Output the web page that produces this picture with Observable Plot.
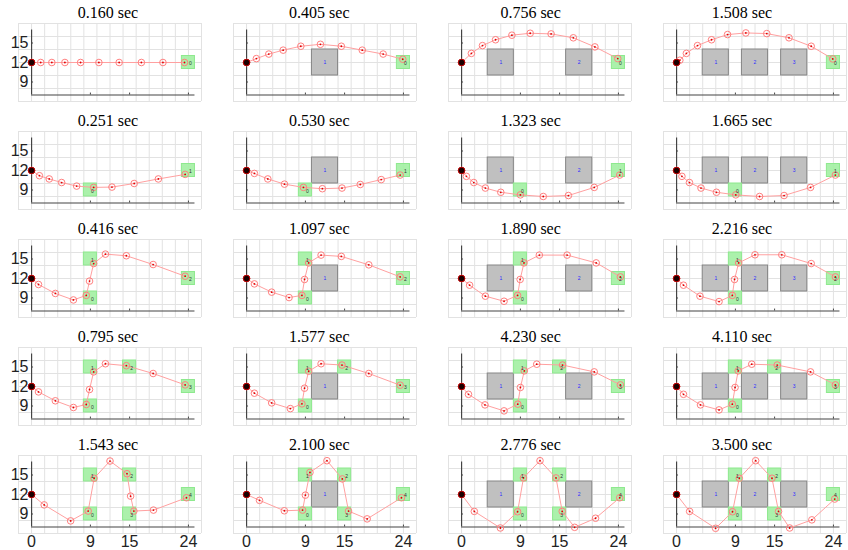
<!DOCTYPE html>
<html>
<head>
<meta charset="utf-8">
<script src="https://cdn.jsdelivr.net/npm/d3@7"></script>
<script src="https://cdn.jsdelivr.net/npm/@observablehq/plot@0.6"></script>
<style>
  body { margin: 0; background: #fff; }
  #chart svg { display: block; }
</style>
</head>
<body>
<div id="chart"></div>
<script>
// ---- data -------------------------------------------------------------
const titles = [
  "0.160 sec", "0.405 sec", "0.756 sec", "1.508 sec",
  "0.251 sec", "0.530 sec", "1.323 sec", "1.665 sec",
  "0.416 sec", "1.097 sec", "1.890 sec", "2.216 sec",
  "0.795 sec", "1.577 sec", "4.230 sec", "4.110 sec",
  "1.543 sec", "2.100 sec", "2.776 sec", "3.500 sec"
];
const xTicks = [0, 9, 15, 24];
const yTicks = [9, 12, 15];

// obstacle centres per column (square obstacles, all centred at y = 12)
const obstacleX = [[], [12], [6, 18], [6, 12, 18]];
const obstacleY = 12;

// waypoints per row
const waypointX = [[24], [9, 24], [9, 9, 24], [9, 9, 15, 24], [9, 9, 15, 15, 24]];
const waypointY = [[12], [9, 12], [9, 15, 12], [9, 15, 15, 12], [9, 15, 15, 9, 12]];

// trajectories, row-major panel order
const trajX = [
  [0, 1.4, 3.1, 5.1, 7.5, 10.3, 13.4, 16.8, 20.1, 23.4],
  [0, 1.5, 3.4, 5.6, 8.3, 11.3, 14.5, 17.7, 20.9, 23.9],
  [0, 1.5, 3.2, 5.2, 7.7, 10.5, 13.7, 17.1, 20.4, 23.9],
  [0, 0.5, 1.5, 3.2, 5.35, 7.8, 10.6, 13.8, 17.2, 20.6, 23.9],

  [0, 1.2, 2.7, 4.6, 6.9, 9.5, 12.3, 15.7, 19.4, 23.5],
  [0, 1.2, 3.25, 5.8, 8.7, 11.6, 14.6, 17.4, 20.6, 23.5],
  [0, 0.74, 1.87, 3.64, 6.0, 9.0, 12.5, 16.35, 20.3, 24.2],
  [0, 0.82, 1.97, 3.74, 6.1, 9.06, 12.7, 16.45, 20.5, 24.3],

  [0, 1.06, 3.64, 6.4, 8.37, 8.87, 9.5, 11.3, 14.5, 18.6, 23.5],
  [0, 1.2, 3.84, 6.5, 8.47, 8.87, 9.5, 11.4, 14.5, 18.7, 23.5],
  [0, 1.23, 3.64, 6.5, 8.57, 8.96, 9.55, 11.9, 16.15, 20.6, 24.3],
  [0, 1.06, 3.58, 6.5, 8.53, 8.87, 9.5, 12.0, 16.1, 20.6, 24.3],

  [0, 1.06, 3.64, 6.4, 8.37, 8.87, 9.5, 11.3, 14.5, 18.6, 23.5],
  [0, 1.2, 3.84, 6.7, 8.47, 8.87, 9.5, 11.4, 14.6, 18.7, 23.5],
  [0, 1.06, 3.58, 6.5, 8.6, 9.0, 9.6, 11.5, 15.45, 20.3, 24.3],
  [0, 1.06, 3.66, 6.5, 8.53, 8.95, 9.43, 11.5, 15.4, 20.5, 24.3],

  [0, 1.93, 5.98, 8.66, 9.57, 12.0, 14.6, 15.15, 15.65, 18.65, 23.7],
  [0, 1.98, 5.78, 8.57, 9.0, 9.7, 12.3, 14.65, 15.6, 18.45, 23.7],
  [0, 1.95, 5.94, 8.57, 9.47, 12.0, 14.45, 15.4, 17.3, 20.5, 24.2],
  [0, 2.0, 5.97, 8.56, 9.6, 12.1, 14.6, 15.6, 17.3, 20.7, 24.2]
];
const trajY = [
  [12, 12, 12, 12, 12, 12, 12, 12, 12, 12],
  [12, 12.6, 13.3, 13.9, 14.5, 14.8, 14.5, 13.9, 13.3, 12.5],
  [12, 13.4, 14.6, 15.5, 16.2, 16.5, 16.4, 15.8, 14.4, 12.6],
  [12, 12.35, 13.4, 14.6, 15.5, 16.3, 16.55, 16.45, 15.8, 14.5, 12.55],

  [12, 11.2, 10.7, 10.15, 9.6, 9.4, 9.45, 10.0, 10.7, 11.4],
  [12, 11.55, 10.7, 9.9, 9.4, 9.2, 9.3, 9.85, 10.6, 11.3],
  [12, 11.1, 10.15, 9.3, 8.65, 8.25, 8.0, 8.15, 9.4, 11.3],
  [12, 11.1, 10.15, 9.3, 8.65, 8.25, 8.0, 8.15, 9.4, 11.3],

  [12, 11.08, 9.7, 8.7, 9.4, 11.6, 14.3, 15.75, 15.5, 14.15, 12.35],
  [12, 11.17, 9.9, 9.07, 9.4, 11.85, 14.4, 15.6, 15.4, 14.1, 12.25],
  [12, 10.97, 9.28, 8.5, 9.4, 11.85, 14.4, 15.6, 15.6, 14.4, 12.25],
  [12, 10.97, 9.28, 8.45, 9.4, 11.85, 14.4, 15.65, 15.65, 14.3, 12.25],

  [12, 11.17, 9.8, 8.77, 9.23, 11.54, 14.25, 15.5, 15.2, 14.0, 12.25],
  [12, 10.97, 9.48, 8.6, 9.33, 11.74, 14.35, 15.5, 15.3, 14.0, 12.2],
  [12, 10.8, 9.17, 8.25, 9.28, 11.85, 14.4, 15.43, 15.3, 14.25, 12.25],
  [12, 10.8, 9.17, 8.4, 9.28, 11.85, 14.4, 15.43, 15.3, 14.25, 12.25],

  [12, 10.4, 7.94, 9.45, 14.5, 17.15, 15.2, 11.75, 9.45, 9.6, 11.5],
  [12, 11.1, 9.5, 9.6, 11.9, 15.4, 17.2, 14.4, 9.45, 8.25, 11.5],
  [12, 9.4, 6.85, 9.35, 14.55, 17.2, 14.55, 9.4, 6.95, 8.35, 11.5],
  [12, 9.4, 6.8, 9.35, 14.5, 17.2, 14.5, 9.4, 6.85, 8.1, 11.3]
];

// ---- derived tables ---------------------------------------------------
const NCOL = 4;
const obstacleHalf = 2;   // obstacles are 4 x 4
const waypointHalf = 1;   // waypoint boxes are 2 x 2
const axisBase = 7, axisTop = 17, axisEnd = 25;

const panels = titles.map((t, i) => ({i, col: i % NCOL, row: Math.floor(i / NCOL), title: t}));
const pts = panels.flatMap(p => trajX[p.i].map((x, k) => ({col: p.col, row: p.row, x, y: trajY[p.i][k], k})));
const starts = pts.filter(d => d.k === 0);
const obs = panels.flatMap(p => obstacleX[p.col].map((cx, j) => ({col: p.col, row: p.row, cx, cy: obstacleY, label: String(j + 1)})));
const wps = panels.flatMap(p => waypointX[p.row].map((wx, j) => ({col: p.col, row: p.row, wx, wy: waypointY[p.row][j], label: String(j)})));

const facet = {fx: "col", fy: "row"};
const titleMarks = d3.range(NCOL).map(c => Plot.text(panels.filter(p => p.col === c), {
  ...facet, text: "title", frameAnchor: "top", lineAnchor: "middle",
  dy: -11, dx: -2 - 3.7 * c, fontSize: 16, fontFamily: "Liberation Serif", fill: "#000"
}));

const chart = Plot.plot({
  width: 848,
  height: 550,
  marginLeft: 16,
  marginRight: 0,
  marginTop: 23,
  marginBottom: 16,
  style: {fontFamily: "Liberation Sans", background: "#fff"},
  fx: {axis: null, domain: [0, 1, 2, 3], paddingInner: 0.147, paddingOuter: 0},
  fy: {axis: null, domain: [0, 1, 2, 3, 4], paddingInner: 0.274, paddingOuter: 0},
  x: {domain: [-2, 26]},
  y: {domain: [6, 18]},
  marks: [
    Plot.gridX({ticks: d3.range(-2, 27, 2), stroke: "#e2e2e2", strokeOpacity: 1}),
    Plot.gridY({ticks: d3.range(6, 19, 2), stroke: "#e2e2e2", strokeOpacity: 1}),
    Plot.rect(obs, {...facet, x1: d => d.cx - obstacleHalf, x2: d => d.cx + obstacleHalf,
      y1: d => d.cy - obstacleHalf, y2: d => d.cy + obstacleHalf,
      fill: "#c0c0c0", stroke: "#858585", strokeWidth: 1}),
    Plot.text(obs, {...facet, x: "cx", y: "cy", text: "label", fill: "#2b2bff", fontSize: 5}),
    Plot.rect(wps, {...facet, x1: d => d.wx - waypointHalf, x2: d => d.wx + waypointHalf,
      y1: d => d.wy - waypointHalf, y2: d => d.wy + waypointHalf,
      fill: "#a2f0a2", fillOpacity: 0.9, stroke: "#8ee98e", strokeWidth: 1}),
    Plot.ruleY([axisBase], {x1: 0, x2: axisEnd, stroke: "#444", strokeWidth: 1.2}),
    Plot.ruleX([0], {y1: axisBase, y2: axisTop, stroke: "#444", strokeWidth: 1.2}),
    Plot.ruleX(xTicks.slice(1), {y1: axisBase, y2: axisBase + 0.3, stroke: "#444"}),
    Plot.ruleY(yTicks, {x1: 0, x2: 0.3, stroke: "#444"}),
    Plot.line(pts, {...facet, x: "x", y: "y", stroke: "#ffa0a0", strokeWidth: 1}),
    Plot.dot(pts, {...facet, x: "x", y: "y", r: 3.3, stroke: "#ff8080", strokeWidth: 1, fill: "none"}),
    Plot.dot(pts, {...facet, x: "x", y: "y", r: 0.9, fill: "#e00000"}),
    Plot.dot(starts, {...facet, x: "x", y: "y", r: 3.3, fill: "#1a0000", stroke: "#c00000", strokeWidth: 1}),
    Plot.text(wps, {...facet, x: "wx", y: "wy", text: "label", fill: "#333", fontSize: 5, dx: 2, dy: 1}),
    Plot.axisX({ticks: xTicks, tickSize: 0, tickPadding: 2, fontSize: 16, fill: "#222"}),
    Plot.axisY({ticks: yTicks, tickSize: 0, tickPadding: 0, dx: 10, fontSize: 16, fill: "#222"}),
    ...titleMarks
  ]
});
document.getElementById("chart").appendChild(chart);
</script>
</body>
</html>
